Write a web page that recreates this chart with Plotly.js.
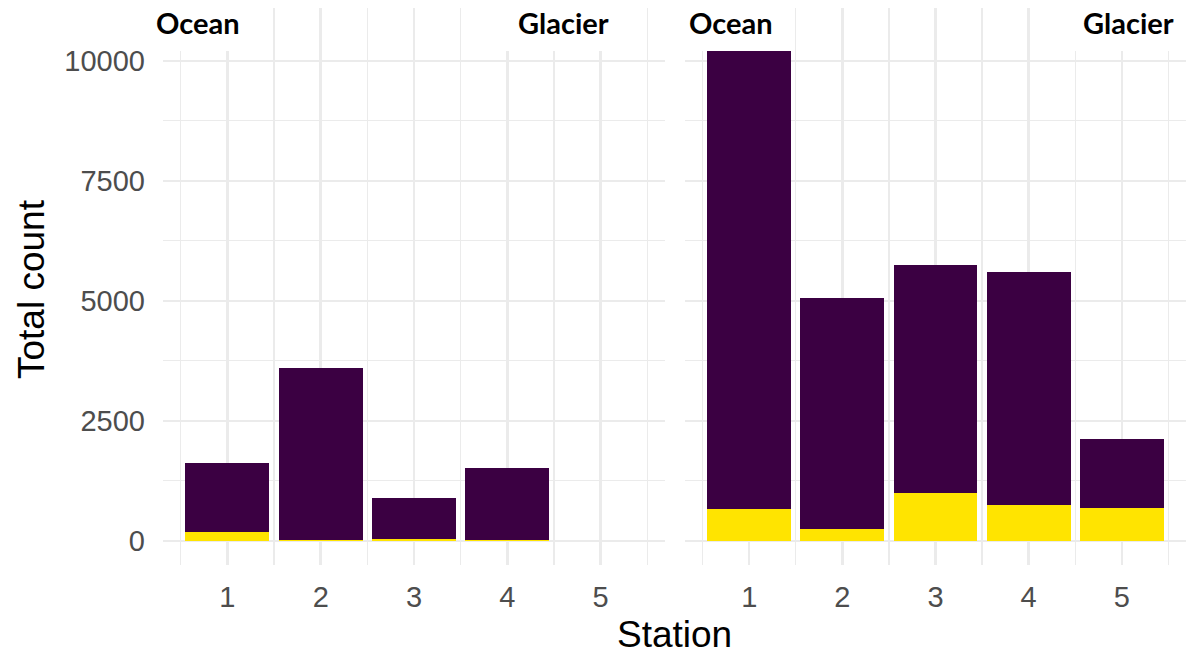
<!DOCTYPE html>
<html>
<head>
<meta charset="utf-8">
<script src="https://cdn.plot.ly/plotly-3.0.1.min.js"></script>
<style>
  html, body { margin: 0; padding: 0; background: #ffffff; }
  #chart { width: 1203px; height: 656px; }
</style>
</head>
<body>
<div id="chart"></div>
<script>
// ---- data ----
const stations = [1, 2, 3, 4, 5];
const stationTickLabels = ["1", "2", "3", "4", "5"];
const yTickVals = [0, 2500, 5000, 7500, 10000];
const yTickLabels = ["0", "2500", "5000", "7500", "10000"];

// Ocean panel (left)
const oceanYellow = [175, 25, 30, 8, 0];
const oceanPurple = [1437, 3567, 853, 1500, 0];

// Glacier panel (right)
const glacierYellow = [654, 237, 987, 750, 681];
const glacierPurple = [9846, 4813, 4750, 4854, 1431];

const panelLabels = ["Ocean", "Glacier"];
const xTitle = "Station";
const yTitle = "Total count";

// ---- styling ----
const W = 1203, H = 656;
const PURPLE = "#3b0042";
const YELLOW = "#ffe400";
const GRID = "#ebebeb";
const px = v => v / W;
const py = v => 1 - v / H;

function barTrace(x, y, color, xa, ya) {
  return {
    type: "bar", x: x, y: y, xaxis: xa, yaxis: ya,
    width: 0.9, marker: { color: color, line: { width: 0 } },
    showlegend: false, hoverinfo: "skip"
  };
}

const traces = [
  barTrace(stations, oceanYellow, YELLOW, "x", "y"),
  barTrace(stations, oceanPurple, PURPLE, "x", "y"),
  barTrace(stations, glacierYellow, YELLOW, "x2", "y2"),
  barTrace(stations, glacierPurple, PURPLE, "x2", "y2")
];

const tickFont = { family: "Liberation Sans, Arial, sans-serif", size: 29, color: "#4d4d4d" };

function xAxis(domain) {
  return {
    domain: domain, range: [0.31, 5.69], fixedrange: true,
    tickmode: "array", tickvals: stations, ticktext: stationTickLabels,
    showgrid: true, gridcolor: GRID, gridwidth: 2.4,
    zeroline: false, showline: false, ticks: "",
    tickfont: tickFont, ticklabelstandoff: 12,
    minor: { tick0: 0.5, dtick: 1, showgrid: true, gridcolor: GRID, gridwidth: 1.3, ticks: "" },
    automargin: false
  };
}
function yAxis(anchor, showLabels) {
  return {
    domain: [1 - 565 / H, 1 - 8 / H], range: [-506, 11098], fixedrange: true,
    anchor: anchor,
    tickmode: "array", tickvals: yTickVals, ticktext: yTickLabels,
    showticklabels: showLabels,
    showgrid: true, gridcolor: GRID, gridwidth: 2.4,
    zeroline: false, showline: false, ticks: "",
    tickfont: tickFont, ticklabelstandoff: 17,
    minor: { tick0: 1250, dtick: 2500, showgrid: true, gridcolor: GRID, gridwidth: 1.3, ticks: "" },
    automargin: false
  };
}

const labelFont = { family: "Lato, Carlito, sans-serif", size: 29, color: "#000000", weight: 700 };

function whiteBox(x0, x1) {
  return {
    type: "rect", xref: "paper", yref: "paper",
    x0: px(x0), x1: px(x1), y0: py(51), y1: py(0),
    fillcolor: "#ffffff", line: { width: 0 }, layer: "above"
  };
}
function panelLabel(text, cx) {
  return {
    xref: "paper", yref: "paper", x: px(cx), y: py(22),
    xanchor: "center", yanchor: "middle", showarrow: false,
    text: "<b>" + text + "</b>", font: labelFont
  };
}

const layout = {
  width: W, height: H,
  margin: { l: 0, r: 0, t: 0, b: 0, pad: 0 },
  paper_bgcolor: "#ffffff", plot_bgcolor: "#ffffff",
  barmode: "stack", bargap: 0.1,
  showlegend: false,
  xaxis: xAxis([px(163), px(665)]),
  yaxis: yAxis("x", true),
  xaxis2: xAxis([px(685), px(1186)]),
  yaxis2: yAxis("x2", false),
  shapes: [
    whiteBox(148, 250),
    whiteBox(498, 628),
    whiteBox(684, 794),
    whiteBox(1066, 1200)
  ],
  annotations: [
    panelLabel(panelLabels[0], 197.5),
    panelLabel(panelLabels[1], 563),
    panelLabel(panelLabels[0], 731),
    panelLabel(panelLabels[1], 1128),
    {
      xref: "paper", yref: "paper", x: px(674.5), y: py(634),
      xanchor: "center", yanchor: "middle", showarrow: false,
      text: xTitle, font: { family: "Liberation Sans, Arial, sans-serif", size: 37, color: "#000000" }
    },
    {
      xref: "paper", yref: "paper", x: px(31), y: py(289),
      xanchor: "center", yanchor: "middle", showarrow: false, textangle: -90,
      text: yTitle, font: { family: "Liberation Sans, Arial, sans-serif", size: 37, color: "#000000" }
    }
  ]
};

Plotly.newPlot("chart", traces, layout, { staticPlot: true, displayModeBar: false });
</script>
</body>
</html>
